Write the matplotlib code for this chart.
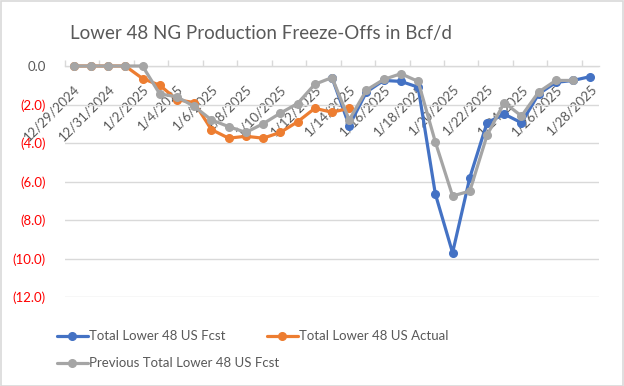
import numpy as np
import matplotlib.pyplot as plt
from matplotlib.patches import Rectangle
from matplotlib.ticker import FixedLocator, FuncFormatter

plt.rcParams['font.family'] = ['Lato', 'DejaVu Sans']

# -----------------------------------------------------------------------------
# DATA (Bcf/d)
# -----------------------------------------------------------------------------
dates = ["12/29/2024", "12/30/2024", "12/31/2024", "1/1/2025", "1/2/2025",
         "1/3/2025", "1/4/2025", "1/5/2025", "1/6/2025", "1/7/2025",
         "1/8/2025", "1/9/2025", "1/10/2025", "1/11/2025", "1/12/2025",
         "1/13/2025", "1/14/2025", "1/15/2025", "1/16/2025", "1/17/2025",
         "1/18/2025", "1/19/2025", "1/20/2025", "1/21/2025", "1/22/2025",
         "1/23/2025", "1/24/2025", "1/25/2025", "1/26/2025", "1/27/2025",
         "1/28/2025"]

nan = np.nan
fcst = [nan] * 15 + [-0.6, -3.1, -1.35, -0.75, -0.8, -1.1, -6.65, -9.7,
                     -5.8, -2.95, -2.5, -2.95, -1.45, -0.85, -0.75, -0.55]
actual = [0, 0, 0, 0, -0.65, -1.0, -1.75, -1.9, -3.3, -3.75, -3.65, -3.75,
          -3.45, -2.9, -2.2, -2.4, -2.2] + [nan] * 14
previous = [0, 0, 0, 0, 0, -1.45, -1.6, -2.1, -2.8, -3.15, -3.45, -3.0,
            -2.45, -1.95, -0.95, -0.6, -2.8, -1.25, -0.7, -0.4, -0.8, -3.95,
            -6.75, -6.5, -3.6, -1.9, -2.6, -1.35, -0.75, -0.75, nan]

series = [
    ("Total Lower 48 US Fcst", fcst, "#4472C4"),
    ("Total Lower 48 US Actual", actual, "#ED7D31"),
    ("Previous Total Lower 48 US Fcst", previous, "#A5A5A5"),
]

# -----------------------------------------------------------------------------
# FIGURE
# -----------------------------------------------------------------------------
W, H = 624, 386
fig = plt.figure(figsize=(W / 100, H / 100), dpi=100)
ax = fig.add_axes([65 / W, 1 - 297 / H, (599 - 65) / W, (297 - 66) / H])

x = np.arange(len(dates))
handles = {}
for name, vals, col in series:
    h, = ax.plot(x, vals, color=col, lw=2.3, marker='o', ms=5.5,
                 solid_capstyle='round', clip_on=False, label=name, zorder=3)
    handles[name] = h

ax.set_xlim(-0.5, len(dates) - 0.5)
ax.set_ylim(-12, 0)

# y axis
ax.set_yticks(np.arange(-12, 0.1, 2))
ax.yaxis.set_major_formatter(FuncFormatter(
    lambda v, p: "0.0" if abs(v) < 1e-9 else f"({abs(v):.1f})"))
ax.tick_params(axis='y', length=0, pad=14, labelsize=9.5)
for lab, v in zip(ax.get_yticklabels(), ax.get_yticks()):
    lab.set_color("#595959" if abs(v) < 1e-9 else "#FF0000")
ax.grid(axis='y', color="#D9D9D9", lw=1)
ax.set_axisbelow(True)

# category axis sits on y = 0
for s in ['left', 'right', 'top']:
    ax.spines[s].set_visible(False)
ax.spines['bottom'].set_position(('data', 0))
ax.spines['bottom'].set_color("#D9D9D9")
ax.spines['bottom'].set_linewidth(1)
ax.set_xticks(x[::2])
ax.set_xticklabels(dates[::2], rotation=45, ha='right', rotation_mode='anchor')
ax.tick_params(axis='x', which='major', length=0, pad=12, labelsize=9.5,
               labelcolor="#595959")
ax.xaxis.set_minor_locator(FixedLocator(np.arange(-0.5, len(dates), 2)))
ax.tick_params(axis='x', which='minor', direction='in', length=4,
               color="#D9D9D9", width=1)

fig.text(261 / W, 1 - 33 / H, "Lower 48 NG Production Freeze-Offs in Bcf/d",
         ha='center', va='center', fontsize=13.5, color="#595959")

# legend: Excel lays it out row by row, second column starts at ~265 px
leg_kw = dict(frameon=False, loc='upper left', fontsize=9.5,
              labelcolor="#595959", handlelength=2.3, handletextpad=0.1,
              labelspacing=1.15, borderaxespad=0)
left = ["Total Lower 48 US Fcst", "Previous Total Lower 48 US Fcst"]
leg1 = fig.legend([handles[n] for n in left], left,
                  bbox_to_anchor=(52 / W, 1 - 325 / H), **leg_kw)
right = ["Total Lower 48 US Actual"]
fig.legend([handles[n] for n in right], right,
           bbox_to_anchor=(262 / W, 1 - 325 / H), **leg_kw)

fig.patches.append(Rectangle((0.5 / W, 0.5 / H), 1 - 1.5 / W, 1 - 1.5 / H,
                             transform=fig.transFigure, fill=False,
                             edgecolor="#D9D9D9", lw=1.2))

fig.savefig("out.png", dpi=100)
